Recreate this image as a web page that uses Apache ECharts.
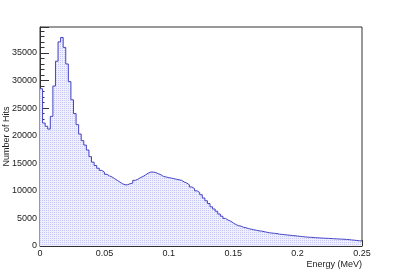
<!DOCTYPE html>
<html>
<head>
<meta charset="UTF-8">
<title>Energy</title>
<script src="https://cdn.jsdelivr.net/npm/echarts@6/dist/echarts.min.js"></script>
<style>
  html, body { margin: 0; padding: 0; background: #fff; }
  #chart { width: 403px; height: 274px; }
</style>
</head>
<body>
<div id="chart"></div>
<script>
// histogram: 125 bins from 0 to 0.25 MeV
var binWidth = 0.002;
var xRange = [0, 0.25];
var yTicks = [0, 5000, 10000, 15000, 20000, 25000, 30000, 35000];
var counts = [
  28500, 22300, 21700, 21200, 23500, 29000, 33500, 37000, 37800, 36000,
  33000, 29800, 26500, 24000, 22000, 20300, 19100, 18300, 17400, 16200,
  15200, 14600, 14100, 13700, 13400, 13000, 12700, 12500, 12200, 11900,
  11600, 11300, 11100, 11100, 11300, 11400, 11900, 12100, 12400, 12600,
  12900, 13200, 13400, 13400, 13300, 13100, 12900, 12600, 12500, 12400,
  12300, 12200, 12100, 12000, 11900, 11600, 11400, 11100, 10700, 10400,
  10000, 9700, 9300, 8700, 8200, 7700, 7100, 6700, 6300, 5800,
  5400, 5000, 4700, 4500, 4200, 3900, 3700, 3600, 3400, 3300,
  3150, 3050, 2950, 2850, 2750, 2700, 2600, 2500, 2400, 2350,
  2300, 2250, 2150, 2100, 2050, 2000, 1950, 1900, 1850, 1800,
  1750, 1700, 1650, 1600, 1580, 1550, 1500, 1480, 1450, 1430,
  1400, 1380, 1350, 1320, 1300, 1270, 1250, 1220, 1200, 1150,
  1100, 1050, 1000, 950, 900
];

// left bin edges, plus closing point at the right edge
var steps = counts.map(function (c, i) { return [+(i * binWidth).toFixed(4), c]; });
steps.push([xRange[1], counts[counts.length - 1]]);

// dotted fill like the ROOT pattern
var pat = document.createElement('canvas');
pat.width = 2; pat.height = 2;
var ctx = pat.getContext('2d');
ctx.fillStyle = '#efeffd';
ctx.fillRect(0, 0, 2, 2);
ctx.fillStyle = '#c8c8f4';
ctx.fillRect(0, 0, 1, 1);

var chart = echarts.init(document.getElementById('chart'));
chart.setOption({
  animation: false,
  grid: {
    left: 40, right: 41, top: 27, bottom: 28,
    containLabel: false, outerBoundsMode: 'none',
    show: true, borderColor: '#333', borderWidth: 1
  },
  xAxis: {
    type: 'value',
    min: xRange[0], max: xRange[1], interval: 0.05,
    name: 'Energy (MeV)',
    nameLocation: 'end',
    nameGap: 0,
    nameMoveOverlap: false,
    nameTextStyle: { fontFamily: 'Liberation Sans', fontSize: 9, color: '#222', align: 'right', verticalAlign: 'top', padding: [14, 0, 0, 0] },
    axisLine: { lineStyle: { color: '#333', width: 1 } },
    axisTick: { inside: true, length: 6, lineStyle: { color: '#333' } },
    minorTick: { show: true, splitNumber: 5, length: 3, lineStyle: { color: '#333' } },
    axisLabel: { fontFamily: 'Liberation Sans', fontSize: 9, color: '#222', margin: 3 },
    splitLine: { show: false }
  },
  yAxis: {
    type: 'value',
    min: yTicks[0], max: 39700, interval: 5000,
    name: 'Number of Hits',
    nameLocation: 'middle',
    nameGap: 29,
    nameMoveOverlap: false,
    nameTextStyle: { fontFamily: 'Liberation Sans', fontSize: 9, color: '#222' },
    axisLine: { show: true, lineStyle: { color: '#333', width: 1 } },
    axisTick: { inside: true, length: 9, lineStyle: { color: '#333' } },
    minorTick: { show: true, splitNumber: 5, length: 4.5, lineStyle: { color: '#333' } },
    axisLabel: {
      fontFamily: 'Liberation Sans', fontSize: 9, color: '#222', margin: 3,
      showMaxLabel: false,
      formatter: function (v) { return String(v); }
    },
    splitLine: { show: false }
  },
  series: [{
    type: 'line',
    step: 'end',
    data: steps,
    showSymbol: false,
    lineStyle: { color: '#4444c4', width: 1 },
    areaStyle: { color: { image: pat, repeat: 'repeat' }, opacity: 1 }
  }]
});
</script>
</body>
</html>
